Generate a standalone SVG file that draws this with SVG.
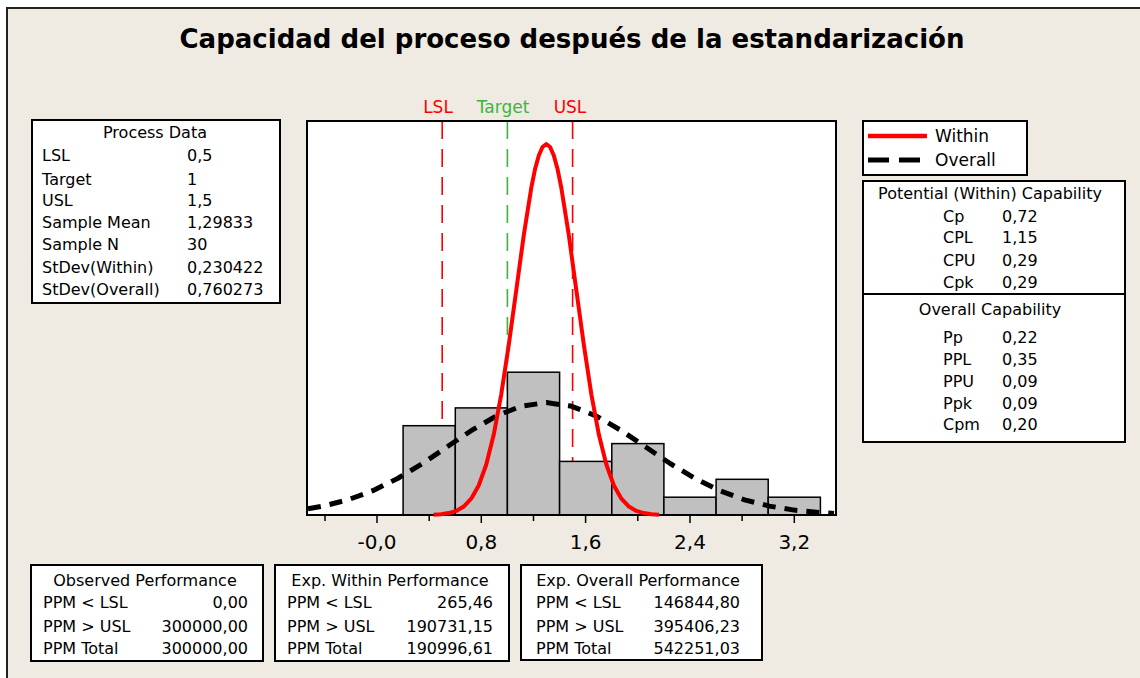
<svg xmlns="http://www.w3.org/2000/svg" width="1140" height="678" viewBox="0 0 1140 678">
<style>
text{font-family:"DejaVu Sans","Verdana",sans-serif;fill:#000}
.t16{font-size:16px}
.box{fill:#fff;stroke:#000;stroke-width:2}
.bar{fill:#c0c0c0;stroke:#000;stroke-width:1.5}
.tick{stroke:#000;stroke-width:1.5}
.ax{font-size:20px;text-anchor:middle}
.mid{text-anchor:middle}
.end{text-anchor:end}
.spec{font-size:17px;text-anchor:middle}
</style>
<rect x="0" y="0" width="1140" height="678" fill="#fff"/>
<rect id="frame" x="7" y="8" width="1150" height="690" fill="#efebe2" stroke="#222" stroke-width="2"/>
<text id="title" x="572" y="48" font-size="26" font-weight="bold" class="mid" textLength="785" lengthAdjust="spacingAndGlyphs">Capacidad del proceso después de la estandarización</text>

<g id="plot">
<rect x="307" y="121" width="529" height="394" fill="#fff"/>
<g id="speclines" stroke-width="1.6" stroke-dasharray="18 10" fill="none">
<line x1="442.2" y1="121" x2="442.2" y2="515" stroke="#ff0000"/>
<line x1="507.4" y1="121" x2="507.4" y2="515" stroke="#3cb43c"/>
<line x1="572.6" y1="121" x2="572.6" y2="515" stroke="#ff0000"/>
</g>
<g id="bars">
<rect class="bar" x="403.1" y="425.7" width="52.2" height="89.3"/>
<rect class="bar" x="455.3" y="407.9" width="52.1" height="107.1"/>
<rect class="bar" x="507.4" y="372.2" width="52.2" height="142.8"/>
<rect class="bar" x="559.6" y="461.4" width="52.2" height="53.6"/>
<rect class="bar" x="611.8" y="443.6" width="52.1" height="71.4"/>
<rect class="bar" x="663.9" y="497.2" width="52.2" height="17.8"/>
<rect class="bar" x="716.1" y="479.3" width="52.1" height="35.7"/>
<rect class="bar" x="768.2" y="497.2" width="52.2" height="17.8"/>
</g>
<rect x="307" y="121" width="529" height="394" fill="none" stroke="#000" stroke-width="2"/>
<g id="connectors" fill="none" stroke-linejoin="round">
<polyline id="overall" stroke="#000" stroke-width="5" stroke-dasharray="13 9" points="308,508.8 323.2,506.1 348.0,499.8 372.8,490.7 397.6,478.5 422.4,463.5 447.2,446.8 471.9,430.2 496.7,415.8 521.5,406.1 546.3,402.6 571.1,406.1 595.9,415.8 620.7,430.2 645.4,446.8 670.2,463.5 695.0,478.5 719.8,490.7 744.6,499.8 769.4,506.1 794.2,510.1 818.9,512.4 834,513.4"/>
<polyline id="within" stroke="#ff0000" stroke-width="4" points="433.6,514.7 441.1,514.2 448.6,513.1 456.2,510.9 463.7,506.6 471.2,498.7 478.7,485.5 486.2,464.8 493.7,434.8 501.2,394.6 508.7,345.2 516.3,290.0 523.8,235.0 531.3,187.7 535.0,169.3 538.8,155.5 542.5,147.0 546.3,144.1 550.1,147.0 553.8,155.5 557.6,169.3 561.3,187.7 568.8,235.0 576.3,290.0 583.9,345.2 591.4,394.6 598.9,434.8 606.4,464.8 613.9,485.5 621.4,498.7 628.9,506.6 636.4,510.9 643.9,513.1 651.4,514.2 659.0,514.7"/>
</g>
<g id="ticks">
<line class="tick" x1="325.0" y1="515" x2="325.0" y2="521"/>
<line class="tick" x1="377.0" y1="515" x2="377.0" y2="523"/>
<line class="tick" x1="429.2" y1="515" x2="429.2" y2="521"/>
<line class="tick" x1="481.3" y1="515" x2="481.3" y2="523"/>
<line class="tick" x1="533.5" y1="515" x2="533.5" y2="521"/>
<line class="tick" x1="585.6" y1="515" x2="585.6" y2="523"/>
<line class="tick" x1="637.8" y1="515" x2="637.8" y2="521"/>
<line class="tick" x1="690.0" y1="515" x2="690.0" y2="523"/>
<line class="tick" x1="742.1" y1="515" x2="742.1" y2="521"/>
<line class="tick" x1="794.3" y1="515" x2="794.3" y2="523"/>
<text class="ax" x="377" y="549">-0,0</text>
<text class="ax" x="481.3" y="549">0,8</text>
<text class="ax" x="585.6" y="549">1,6</text>
<text class="ax" x="690" y="549">2,4</text>
<text class="ax" x="794.3" y="549">3,2</text>
</g>
<g id="speclabels">
<text x="438" y="113" class="spec" style="fill:#ff0000">LSL</text>
<text x="503" y="113" class="spec" style="fill:#3cb43c">Target</text>
<text x="570" y="113" class="spec" style="fill:#ff0000">USL</text>
</g>
</g>

<g id="process-data">
<rect class="box" x="32" y="120" width="248" height="183"/>
<text x="155" y="138" class="mid t16">Process Data</text>
<text x="42" y="161" class="t16">LSL</text><text x="187" y="161" class="t16">0,5</text>
<text x="42" y="185" class="t16">Target</text><text x="187" y="185" class="t16">1</text>
<text x="42" y="206" class="t16">USL</text><text x="187" y="206" class="t16">1,5</text>
<text x="42" y="228" class="t16">Sample Mean</text><text x="187" y="228" class="t16">1,29833</text>
<text x="42" y="250" class="t16">Sample N</text><text x="187" y="250" class="t16">30</text>
<text x="42" y="273" class="t16">StDev(Within)</text><text x="187" y="273" class="t16">0,230422</text>
<text x="42" y="295" class="t16">StDev(Overall)</text><text x="187" y="295" class="t16">0,760273</text>
</g>

<g id="legend">
<rect class="box" x="863" y="121" width="164" height="54"/>
<line x1="868" y1="136" x2="927" y2="136" stroke="#ff0000" stroke-width="4.5"/>
<line x1="868" y1="160" x2="927" y2="160" stroke="#000" stroke-width="5" stroke-dasharray="21 10"/>
<text x="935" y="142" font-size="17">Within</text>
<text x="935" y="166" font-size="17">Overall</text>
</g>

<g id="capability">
<rect class="box" x="863" y="181" width="262" height="261"/>
<line x1="863" y1="294" x2="1125" y2="294" stroke="#000" stroke-width="2"/>
<text x="990" y="199" class="mid t16">Potential (Within) Capability</text>
<text x="943" y="222" class="t16">Cp</text><text x="1002" y="222" class="t16">0,72</text>
<text x="943" y="243" class="t16">CPL</text><text x="1002" y="243" class="t16">1,15</text>
<text x="943" y="266" class="t16">CPU</text><text x="1002" y="266" class="t16">0,29</text>
<text x="943" y="288" class="t16">Cpk</text><text x="1002" y="288" class="t16">0,29</text>
<text x="990" y="315" class="mid t16">Overall Capability</text>
<text x="943" y="343" class="t16">Pp</text><text x="1002" y="343" class="t16">0,22</text>
<text x="943" y="365" class="t16">PPL</text><text x="1002" y="365" class="t16">0,35</text>
<text x="943" y="387" class="t16">PPU</text><text x="1002" y="387" class="t16">0,09</text>
<text x="943" y="409" class="t16">Ppk</text><text x="1002" y="409" class="t16">0,09</text>
<text x="943" y="430" class="t16">Cpm</text><text x="1002" y="430" class="t16">0,20</text>
</g>

<g id="observed">
<rect class="box" x="31" y="565" width="232" height="96"/>
<text x="145" y="586" class="mid t16">Observed Performance</text>
<text x="43" y="608" class="t16">PPM &lt; LSL</text><text x="248" y="608" class="end t16">0,00</text>
<text x="43" y="632" class="t16">PPM &gt; USL</text><text x="248" y="632" class="end t16">300000,00</text>
<text x="43" y="654" class="t16">PPM Total</text><text x="248" y="654" class="end t16">300000,00</text>
</g>

<g id="exp-within">
<rect class="box" x="275" y="565" width="234" height="96"/>
<text x="390" y="586" class="mid t16">Exp. Within Performance</text>
<text x="287" y="608" class="t16">PPM &lt; LSL</text><text x="493" y="608" class="end t16">265,46</text>
<text x="287" y="632" class="t16">PPM &gt; USL</text><text x="493" y="632" class="end t16">190731,15</text>
<text x="287" y="654" class="t16">PPM Total</text><text x="493" y="654" class="end t16">190996,61</text>
</g>

<g id="exp-overall">
<rect class="box" x="521" y="565" width="241" height="95"/>
<text x="638" y="586" class="mid t16">Exp. Overall Performance</text>
<text x="536" y="608" class="t16">PPM &lt; LSL</text><text x="740" y="608" class="end t16">146844,80</text>
<text x="536" y="632" class="t16">PPM &gt; USL</text><text x="740" y="632" class="end t16">395406,23</text>
<text x="536" y="654" class="t16">PPM Total</text><text x="740" y="654" class="end t16">542251,03</text>
</g>
</svg>
